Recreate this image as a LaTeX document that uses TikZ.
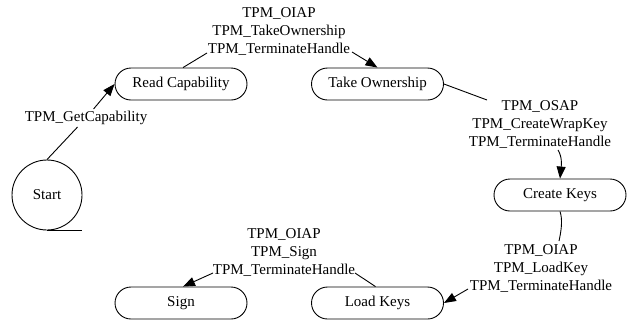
\documentclass[tikz,border=0pt]{standalone}
\usepackage{fontspec}
\setmainfont{Liberation Serif}
\usetikzlibrary{shapes.misc,arrows.meta}
\begin{document}
\begin{tikzpicture}[x=1pt,y=-1pt,
  every node/.style={font=\fontsize{15}{18}\selectfont},
  state/.style={draw,rounded rectangle,line width=0.9pt,minimum width=132pt,minimum height=32pt,inner sep=0pt},
  startstate/.style={draw,circle,line width=0.9pt,minimum size=70pt,inner sep=0pt},
  elabel/.style={align=center,inner sep=0pt},
  edge/.style={line width=0.9pt},
  tip/.style={edge,-{Triangle[length=12pt,width=9pt]}}]
\useasboundingbox (0,0) rectangle (632,327);

% states
\node[startstate] (start) at (47,195) {Start};
\node[state] (read)   at (181,84)  {Read Capability};
\node[state] (take)   at (377.5,84) {Take Ownership};
\node[state] (create) at (560,195) {Create Keys};
\node[state] (load)   at (377.5,303) {Load Keys};
\node[state] (sign)   at (181,303) {Sign};

% transition labels
\node[elabel,inner sep=2pt] (l1) at (86,118) {TPM\_GetCapability};
\node[elabel] (l2) at (279,31)  {TPM\_OIAP\\TPM\_TakeOwnership\\TPM\_TerminateHandle};
\node[elabel] (l3) at (540,124) {TPM\_OSAP\\TPM\_CreateWrapKey\\TPM\_TerminateHandle};
\node[elabel] (l4) at (541,268) {TPM\_OIAP\\TPM\_LoadKey\\TPM\_TerminateHandle};
\node[elabel] (l5) at (284,252) {TPM\_OIAP\\TPM\_Sign\\TPM\_TerminateHandle};

% points where the edges meet their labels
\coordinate (l2in)  at (207,53);
\coordinate (l2out) at (352,52);
\coordinate (l3in)  at (487,100);
\coordinate (l3out) at (558,150);
\coordinate (l4in)  at (559,241);
\coordinate (l4out) at (468,289);
\coordinate (l5in)  at (355,273);
\coordinate (l5out) at (213,273);

% start marker line
\draw[edge] (start.south) -- ++(35,0);

% transitions
\draw[edge] (start.north) -- (l1);
\draw[tip] (l1) -- (read.west);

\draw[edge] (read.north) ++(2,0) -- (l2in);
\draw[tip] (l2out) -- (take.north);

\draw[edge] (take.east) -- (l3in);
\draw[tip] (l3out) .. controls (563,158) and (561,168) .. (create.north);

\draw[edge] (create.south) .. controls (563,220) and (561,232) .. (l4in);
\draw[tip] (l4out) -- (load.east);

\draw[edge] (load.north) ++(-2,0) -- (l5in);
\draw[tip] (l5out) -- ([xshift=2pt]sign.north);
\end{tikzpicture}
\end{document}
